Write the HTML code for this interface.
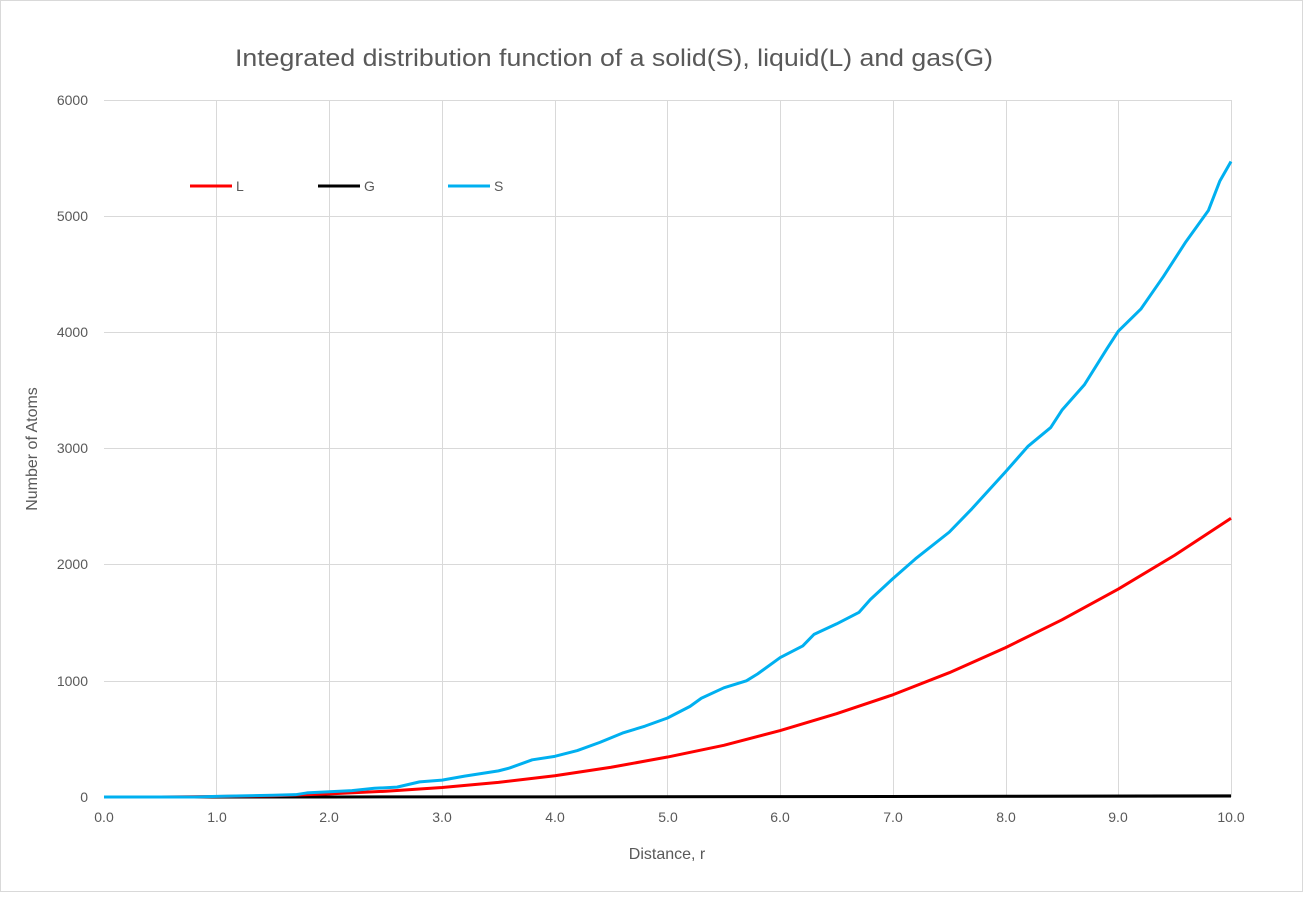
<!DOCTYPE html>
<html><head><meta charset="utf-8"><style>
body{margin:0;background:#fff;}
text{font-family:"Liberation Sans",sans-serif;fill:#595959;}
</style></head><body>
<svg width="1303" height="892" xmlns="http://www.w3.org/2000/svg">
<rect x="0.5" y="0.5" width="1302" height="891" fill="#fff" stroke="#d9d9d9"/>
<text x="235" y="66" font-size="24" textLength="758" lengthAdjust="spacingAndGlyphs">Integrated distribution function of a solid(S), liquid(L) and gas(G)</text>
<g stroke="#d9d9d9" stroke-width="1">
<line x1="104" y1="100.5" x2="1231" y2="100.5"/>
<line x1="104" y1="216.5" x2="1231" y2="216.5"/>
<line x1="104" y1="332.5" x2="1231" y2="332.5"/>
<line x1="104" y1="448.5" x2="1231" y2="448.5"/>
<line x1="104" y1="564.5" x2="1231" y2="564.5"/>
<line x1="104" y1="681.5" x2="1231" y2="681.5"/>
<line x1="216.5" y1="100" x2="216.5" y2="797"/>
<line x1="329.5" y1="100" x2="329.5" y2="797"/>
<line x1="442.5" y1="100" x2="442.5" y2="797"/>
<line x1="555.5" y1="100" x2="555.5" y2="797"/>
<line x1="667.5" y1="100" x2="667.5" y2="797"/>
<line x1="780.5" y1="100" x2="780.5" y2="797"/>
<line x1="893.5" y1="100" x2="893.5" y2="797"/>
<line x1="1006.5" y1="100" x2="1006.5" y2="797"/>
<line x1="1118.5" y1="100" x2="1118.5" y2="797"/>
<line x1="1231.5" y1="100" x2="1231.5" y2="797"/>
<line x1="104" y1="797.5" x2="1231" y2="797.5" stroke="#bfbfbf"/>
</g>
<g font-size="14" text-anchor="end">
<text x="88" y="105">6000</text><text x="88" y="221">5000</text><text x="88" y="337">4000</text>
<text x="88" y="453">3000</text><text x="88" y="569">2000</text><text x="88" y="686">1000</text><text x="88" y="802">0</text>
</g>
<g font-size="14" text-anchor="middle">
<text x="104" y="822">0.0</text><text x="217" y="822">1.0</text><text x="329" y="822">2.0</text><text x="442" y="822">3.0</text>
<text x="555" y="822">4.0</text><text x="668" y="822">5.0</text><text x="780" y="822">6.0</text><text x="893" y="822">7.0</text>
<text x="1006" y="822">8.0</text><text x="1118" y="822">9.0</text><text x="1231" y="822">10.0</text>
</g>
<text x="667" y="859" font-size="16" text-anchor="middle">Distance, r</text>
<text transform="translate(37,449) rotate(-90)" font-size="16" text-anchor="middle">Number of Atoms</text>
<g transform="translate(104,797) scale(112.7,-0.11617)" fill="none" stroke-linejoin="round">
<polyline vector-effect="non-scaling-stroke" stroke="#000" stroke-width="3" points="0,0 2,0.3 4,1.5 6,3.5 8,6 10,10"/>
<polyline vector-effect="non-scaling-stroke" stroke="#ff0000" stroke-width="3" points="0,0 0.5,0.5 1,3.8 1.5,11.1 2,26.5 2.5,49.6 3,82 3.5,126 4,183 4.5,256 5,344 5.5,445 6,572 6.5,717 7,880 7.5,1070 8,1286 8.5,1525 9,1790 9.5,2081 10,2400"/>
<polyline vector-effect="non-scaling-stroke" stroke="#00b0f0" stroke-width="3" points="0,0 0.8,0 1,5 1.5,15 1.7,20 1.8,35 2,45 2.2,55 2.4,75 2.6,85 2.8,130 3,145 3.2,180 3.5,225 3.6,250 3.8,320 4,350 4.2,400 4.4,470 4.6,550 4.8,610 5,680 5.2,780 5.3,850 5.5,940 5.7,1000 5.8,1060 6,1200 6.2,1300 6.3,1400 6.5,1490 6.7,1590 6.8,1700 7,1880 7.2,2050 7.5,2280 7.7,2480 8,2800 8.2,3020 8.4,3180 8.5,3330 8.7,3550 8.9,3860 9,4010 9.2,4200 9.4,4480 9.6,4780 9.8,5050 9.9,5300 10,5470"/>
</g>
<g font-size="14">
<line x1="190" y1="186" x2="232" y2="186" stroke="#ff0000" stroke-width="3"/><text x="236" y="191">L</text>
<line x1="318" y1="186" x2="360" y2="186" stroke="#000" stroke-width="3"/><text x="364" y="191">G</text>
<line x1="448" y1="186" x2="490" y2="186" stroke="#00b0f0" stroke-width="3"/><text x="494" y="191">S</text>
</g>
</svg>
</body></html>
